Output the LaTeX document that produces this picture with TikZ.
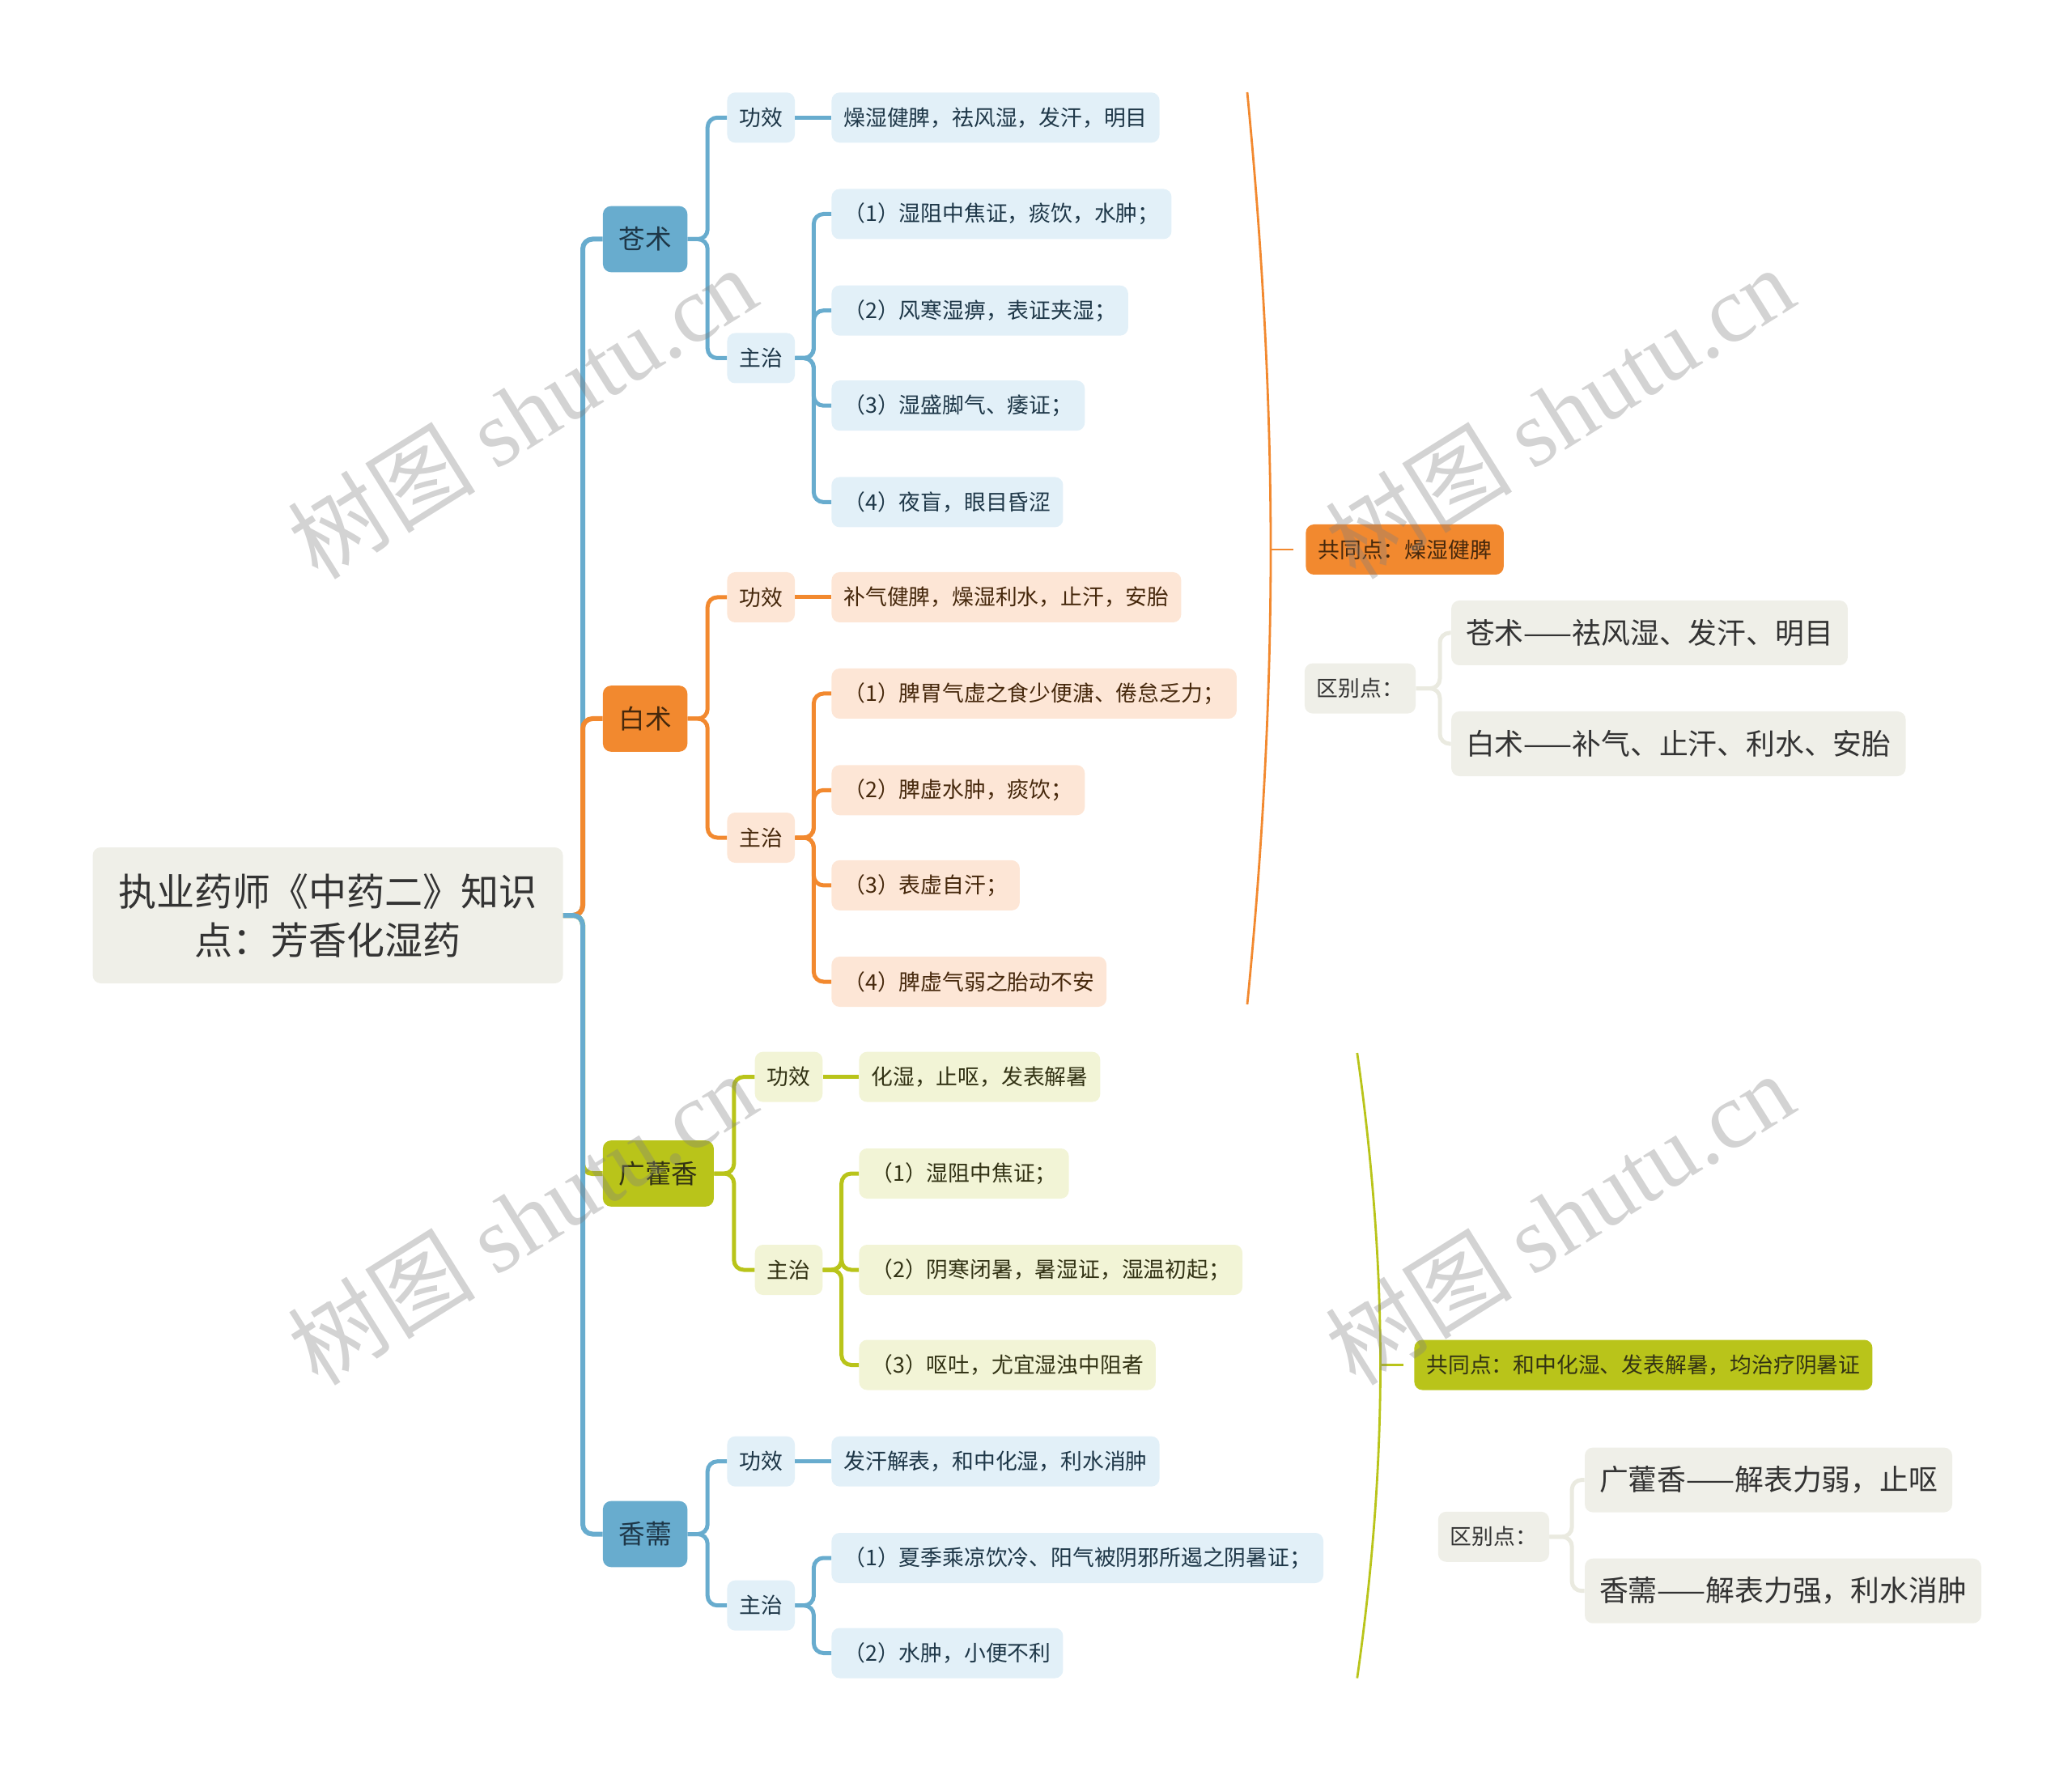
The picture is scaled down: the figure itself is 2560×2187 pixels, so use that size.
\documentclass[tikz,border=0pt]{standalone}
\usepackage{fontspec}
\setmainfont{Noto Sans CJK SC}
\newfontfamily\wmlatin{Liberation Serif}
\usetikzlibrary{calc}
\definecolor{blD}{RGB}{104,172,206}
\definecolor{blL}{RGB}{226,240,248}
\definecolor{blT}{RGB}{30,55,72}
\definecolor{orD}{RGB}{242,137,47}
\definecolor{orL}{RGB}{253,230,214}
\definecolor{orT}{RGB}{70,40,12}
\definecolor{olD}{RGB}{185,196,26}
\definecolor{olL}{RGB}{242,244,214}
\definecolor{olT}{RGB}{50,50,20}
\definecolor{bgF}{RGB}{239,239,232}
\definecolor{bgL}{RGB}{234,234,224}
\definecolor{txD}{RGB}{51,51,51}
\begin{document}
\begin{tikzpicture}[x=0.5pt,y=-0.5pt,
  rootbox/.style={fill=bgF,text=txD,rounded corners=5pt,minimum width=290.5pt,minimum height=84pt,align=center,font=\fontsize{23.5pt}{30pt}\selectfont,inner sep=0pt},
  lone/.style 2 args={fill=#1,text=#2,rounded corners=5pt,minimum height=40.8pt,inner xsep=9.8pt,inner ysep=0pt,font=\fontsize{16.3pt}{19pt}\selectfont,anchor=west},
  ltwo/.style 2 args={fill=#1,text=#2,rounded corners=5pt,minimum height=31pt,inner xsep=7.5pt,inner ysep=0pt,font=\fontsize{13.4pt}{16pt}\selectfont,anchor=west},
  lbig/.style={fill=bgF,text=txD,rounded corners=5pt,minimum height=40pt,inner xsep=9pt,inner ysep=0pt,font=\fontsize{17.9pt}{22pt}\selectfont,anchor=west},
  cmain/.style={draw=#1,line width=3pt,rounded corners=6pt},
  conn/.style={draw=#1,line width=2.5pt,rounded corners=6pt},
  brk/.style={draw=#1,line width=1.4pt},
  wm/.style={text=gray,opacity=0.35,rotate=32,font=\fontsize{58pt}{60pt}\selectfont}
]
\useasboundingbox (0,0) rectangle (2560,2187);

% root
\node[rootbox] (root) at (405,1131) {执业药师《中药二》知识\\点：芳香化湿药};

% level 1
\node[lone={blD}{blT}] (cz) at (744.5,295.5) {苍术};
\node[lone={orD}{orT}] (bz) at (744.5,888) {白术};
\node[lone={olD}{olT}] (gh) at (744.5,1450) {广藿香};
\node[lone={blD}{blT}] (xr) at (744.5,1895.5) {香薷};

% 苍术
\node[ltwo={blL}{blT}] (czgx) at (898,145.3) {功效};
\node[ltwo={blL}{blT}] (czzz) at (898,442.5) {主治};
\node[ltwo={blL}{blT}] (czgxa) at (1027,145.3) {燥湿健脾，祛风湿，发汗，明目};
\node[ltwo={blL}{blT}] (czz1) at (1027,264.5) {（1）湿阻中焦证，痰饮，水肿；};
\node[ltwo={blL}{blT}] (czz2) at (1027,383.7) {（2）风寒湿痹，表证夹湿；};
\node[ltwo={blL}{blT}] (czz3) at (1027,501.2) {（3）湿盛脚气、痿证；};
\node[ltwo={blL}{blT}] (czz4) at (1027,620.4) {（4）夜盲，眼目昏涩};

% 白术
\node[ltwo={orL}{orT}] (bzgx) at (898,738) {功效};
\node[ltwo={orL}{orT}] (bzzz) at (898,1035) {主治};
\node[ltwo={orL}{orT}] (bzgxa) at (1027,738) {补气健脾，燥湿利水，止汗，安胎};
\node[ltwo={orL}{orT}] (bzz1) at (1027,857) {（1）脾胃气虚之食少便溏、倦怠乏力；};
\node[ltwo={orL}{orT}] (bzz2) at (1027,976.3) {（2）脾虚水肿，痰饮；};
\node[ltwo={orL}{orT}] (bzz3) at (1027,1093.9) {（3）表虚自汗；};
\node[ltwo={orL}{orT}] (bzz4) at (1027,1213) {（4）脾虚气弱之胎动不安};

% 广藿香
\node[ltwo={olL}{olT}] (ghgx) at (932.3,1330.6) {功效};
\node[ltwo={olL}{olT}] (ghzz) at (932.3,1569) {主治};
\node[ltwo={olL}{olT}] (ghgxa) at (1061,1330.6) {化湿，止呕，发表解暑};
\node[ltwo={olL}{olT}] (ghz1) at (1061,1450) {（1）湿阻中焦证；};
\node[ltwo={olL}{olT}] (ghz2) at (1061,1569) {（2）阴寒闭暑，暑湿证，湿温初起；};
\node[ltwo={olL}{olT}] (ghz3) at (1061,1686.5) {（3）呕吐，尤宜湿浊中阻者};

% 香薷
\node[ltwo={blL}{blT}] (xrgx) at (898,1805.7) {功效};
\node[ltwo={blL}{blT}] (xrzz) at (898,1983.7) {主治};
\node[ltwo={blL}{blT}] (xrgxa) at (1027,1805.7) {发汗解表，和中化湿，利水消肿};
\node[ltwo={blL}{blT}] (xrz1) at (1027,1925) {（1）夏季乘凉饮冷、阳气被阴邪所遏之阴暑证；};
\node[ltwo={blL}{blT}] (xrz2) at (1027,2042.5) {（2）水肿，小便不利};

% summaries
\node[ltwo={orD}{orT}] (s1gt) at (1613,679) {共同点：燥湿健脾};
\node[ltwo={bgF}{txD}] (s1qb) at (1611.5,850.6) {区别点：};
\node[lbig] (s1a) at (1792.7,782) {苍术——祛风湿、发汗、明目};
\node[lbig] (s1b) at (1792.7,919) {白术——补气、止汗、利水、安胎};

\node[ltwo={olD}{olT}] (s2gt) at (1747,1686.5) {共同点：和中化湿、发表解暑，均治疗阴暑证};
\node[ltwo={bgF}{txD}] (s2qb) at (1776.4,1898.8) {区别点：};
\node[lbig] (s2a) at (1957.6,1828.6) {广藿香——解表力弱，止呕};
\node[lbig] (s2b) at (1957.6,1965.7) {香薷——解表力强，利水消肿};

% main connectors
\draw[cmain=blD] (root.east) -- (720,1131) |- (cz.west);
\draw[cmain=olD] (root.east) -- (720,1131) |- (gh.west);
\draw[cmain=orD] (root.east) -- (720,1131) |- (bz.west);
\draw[cmain=blD] (root.east) -- (720,1131) |- (xr.west);

% level 2 connectors
\foreach \p/\c/\col in {cz/czgx/blD,cz/czzz/blD,bz/bzgx/orD,bz/bzzz/orD,gh/ghgx/olD,gh/ghzz/olD,xr/xrgx/blD,xr/xrzz/blD}
  \draw[conn=\col] (\p.east) -- ++(24.5,0) |- (\c.west);
\foreach \p/\c/\col in {czgx/czgxa/blD,bzgx/bzgxa/orD,ghgx/ghgxa/olD,xrgx/xrgxa/blD}
  \draw[conn=\col] (\p.east) -- (\c.west);
\foreach \p/\c/\col in {czzz/czz1/blD,czzz/czz2/blD,czzz/czz3/blD,czzz/czz4/blD,
  bzzz/bzz1/orD,bzzz/bzz2/orD,bzzz/bzz3/orD,bzzz/bzz4/orD,
  ghzz/ghz1/olD,ghzz/ghz2/olD,ghzz/ghz3/olD,
  xrzz/xrz1/blD,xrzz/xrz2/blD}
  \draw[conn=\col] (\p.east) -- ++(23,0) |- (\c.west);

% summary connectors
\draw[conn=bgL] (s1qb.east) -- ++(29.5,0) |- (s1a.west);
\draw[conn=bgL] (s1qb.east) -- ++(29.5,0) |- (s1b.west);
\draw[conn=bgL] (s2qb.east) -- ++(27.7,0) |- (s2a.west);
\draw[conn=bgL] (s2qb.east) -- ++(27.7,0) |- (s2b.west);

% brackets
\coordinate (b1top) at (1541,114);
\coordinate (b1mid) at (1570,679);
\coordinate (b1bot) at (1541,1241);
\coordinate (b1tick) at (1598,679);
\draw[brk=orD] (b1top) .. controls (1562,330) and (1570,520) .. (b1mid) .. controls (1570,840) and (1562,1030) .. (b1bot);
\draw[brk=orD] (b1mid) -- (b1tick);

\coordinate (b2top) at (1676.8,1301);
\coordinate (b2mid) at (1705.5,1686.5);
\coordinate (b2bot) at (1676.8,2073.5);
\coordinate (b2tick) at (1733.9,1686.5);
\draw[brk=olD] (b2top) .. controls (1698,1450) and (1705.5,1580) .. (b2mid) .. controls (1705.5,1795) and (1698,1925) .. (b2bot);
\draw[brk=olD] (b2mid) -- (b2tick);

% watermarks
\node[wm] (wm1) at (645,509) {树图 {\wmlatin shutu.cn}};
\node[wm] (wm2) at (1926.5,509) {树图 {\wmlatin shutu.cn}};
\node[wm] (wm3) at (645,1505) {树图 {\wmlatin shutu.cn}};
\node[wm] (wm4) at (1926.5,1505) {树图 {\wmlatin shutu.cn}};
\end{tikzpicture}
\end{document}
